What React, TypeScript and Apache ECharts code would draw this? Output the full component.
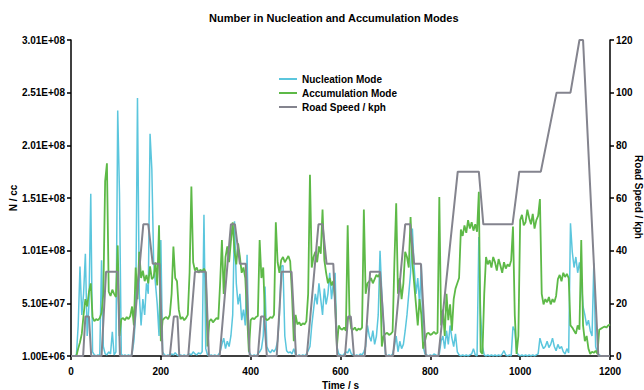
import React, { useEffect, useRef } from "react";
import * as echarts from "echarts";

// Sampling step of the particle-count series (seconds)
const STEP_S = 4;

// Nucleation mode number, in units of 1E+06 per cc, every 4 s from 0 to 1200 s
const nucleationMillions = [
  1, 1, 1, 2, 30, 86, 40, 60, 98, 20, 50, 155, 5, 2, 1, 2, 1, 92, 10, 3, 2, 5, 3, 24, 2,
  5, 234, 154, 3, 1, 2, 1, 2, 1, 3, 15, 40, 246, 60, 30, 55, 40, 70, 60, 212, 178, 90, 70, 50, 20,
  111, 5, 2, 1, 2, 1, 3, 2, 4, 2, 1, 2, 1, 2, 1, 2, 3, 2, 5, 3, 2, 4, 3, 5, 135,
  8, 2, 1, 2, 1, 2, 1, 2, 5, 12, 18, 8, 15, 10, 20, 40, 129, 70, 50, 60, 35, 45, 30, 97, 5,
  2, 1, 2, 1, 3, 5, 8, 20, 67, 10, 6, 4, 7, 5, 8, 15, 40, 86, 87, 20, 6, 4, 5, 3, 8,
  2, 1, 2, 1, 2, 1, 3, 6, 10, 30, 45, 60, 50, 70, 55, 40, 65, 50, 60, 80, 55, 70, 80, 10, 3,
  2, 1, 3, 5, 4, 8, 3, 2, 1, 2, 1, 3, 2, 5, 10, 30, 20, 15, 25, 12, 20, 40, 101, 60, 30,
  3, 1, 2, 1, 3, 10, 20, 5, 15, 8, 12, 25, 40, 60, 80, 122, 85, 60, 75, 50, 88, 10, 3, 2, 1,
  2, 1, 3, 2, 1, 3, 15, 20, 8, 25, 12, 30, 18, 10, 22, 5, 2, 1, 2, 1, 2, 1, 2, 3, 8,
  2, 1, 114, 40, 10, 2, 1, 2, 1, 2, 1, 2, 1, 2, 1, 3, 6, 2, 1, 2, 1, 29, 25, 5, 2,
  1, 2, 1, 2, 1, 2, 1, 2, 1, 2, 3, 18, 12, 8, 10, 15, 9, 12, 18, 10, 6, 12, 8, 10, 5,
  3, 8, 4, 127, 100, 85, 95, 80, 90, 75, 48, 40, 30, 35, 25, 20, 89, 10, 4, 2, 1, 1, 1, 1, 1,
  1,
];

// Accumulation mode number, in units of 1E+06 per cc, every 4 s from 0 to 1200 s
const accumulationMillions = [
  1, 1, 1, 1, 8, 14, 22, 40, 55, 48, 62, 70, 38, 34, 36, 35, 37, 42, 60, 167, 184, 62, 58, 64, 60,
  57, 106, 20, 36, 37, 35, 38, 36, 39, 48, 30, 85, 55, 100, 75, 82, 72, 78, 70, 86, 74, 76, 90, 68, 125,
  15, 35, 37, 38, 36, 40, 60, 105, 75, 72, 45, 36, 38, 35, 37, 40, 80, 162, 90, 82, 85, 80, 83, 81, 84,
  80, 10, 34, 36, 33, 35, 37, 36, 70, 111, 60, 95, 105, 90, 110, 128, 100, 88, 108, 95, 80, 85, 75, 40, 5,
  35, 37, 36, 38, 39, 111, 75, 85, 37, 35, 36, 38, 37, 40, 128, 90, 80, 92, 95, 90, 93, 96, 91, 60, 15,
  40, 31, 33, 30, 32, 31, 34, 60, 173, 85, 95, 100, 90, 105, 98, 140, 92, 80, 70, 75, 68, 72, 55, 10, 30,
  27, 26, 28, 25, 125, 40, 27, 26, 28, 25, 27, 26, 28, 140, 60, 70, 72, 75, 70, 74, 78, 76, 80, 10, 20,
  22, 23, 21, 22, 24, 90, 146, 60, 75, 55, 70, 100, 95, 85, 133, 90, 70, 50, 30, 55, 40, 8, 15, 22, 23,
  21, 22, 24, 22, 23, 152, 30, 45, 20, 60, 35, 50, 25, 55, 65, 70, 75, 121, 115, 125, 118, 130, 122, 128, 120,
  126, 119, 157, 5, 3, 60, 95, 88, 92, 85, 95, 90, 82, 93, 87, 80, 90, 84, 88, 86, 92, 124, 40, 3, 20,
  130, 135, 125, 128, 140, 132, 126, 136, 122, 130, 134, 150, 60, 50, 55, 52, 57, 50, 55, 52, 58, 74, 78, 72, 80,
  76, 79, 75, 30, 28, 25, 22, 30, 26, 111, 30, 15, 20, 8, 3, 5, 4, 6, 3, 26, 27, 28, 29, 28, 30,
  31,
];

// Road speed trace: break points (s) and speeds (kph)
const speedTime = [
  0, 27, 32, 40, 45, 68, 78, 104, 109, 135, 161, 172, 182, 197, 204,
  220, 229, 237, 241, 261, 276, 300, 307, 331, 356, 365, 376, 389, 398,
  416, 423, 430, 436, 458, 469, 491, 501, 525, 551, 560, 569, 584, 593,
  610, 617, 623, 630, 654, 666, 688, 701, 717, 744, 755, 764, 779, 790,
  818, 861, 908, 918, 983, 998, 1046, 1081, 1112, 1132, 1140, 1174, 1200,
];
const speedKph = [
  0, 0, 15, 15, 0, 0, 32, 32, 0, 0, 50, 50, 35, 35, 0,
  0, 15, 15, 0, 0, 32, 32, 0, 0, 50, 50, 35, 35, 0,
  0, 15, 15, 0, 0, 32, 32, 0, 0, 50, 50, 35, 35, 0,
  0, 15, 15, 0, 0, 32, 32, 0, 0, 50, 50, 35, 35, 0,
  0, 70, 70, 50, 50, 70, 70, 100, 100, 120, 120, 0, 0,
];

const FONT = "'Liberation Sans', Arial, sans-serif";

function sci(v: number): string {
  const n = Math.round(v * 1e6);
  const [m, e] = n.toExponential(2).split("e");
  const ex = parseInt(e, 10);
  return m + "E" + (ex < 0 ? "-" : "+") + String(Math.abs(ex)).padStart(2, "0");
}

export default function App() {
  const ref = useRef<HTMLDivElement>(null);

  useEffect(() => {
    if (!ref.current) return;
    const chart = echarts.init(ref.current, null, { renderer: "svg" });

    const axisCommon = {
      axisLine: { show: true, lineStyle: { color: "#000", width: 1.5 } },
      axisTick: { show: true, length: 4, lineStyle: { color: "#000", width: 1.5 } },
      axisLabel: { color: "#000", fontWeight: "bold", fontSize: 10, fontFamily: FONT },
      splitLine: { show: false },
      nameTextStyle: { color: "#000", fontWeight: "bold", fontSize: 10, fontFamily: FONT },
    };

    const nameStyle = {
      fill: "#000",
      fontWeight: "bold",
      fontSize: 10,
      fontFamily: FONT,
      align: "center",
      verticalAlign: "middle",
    };

    chart.setOption({
      animation: false,
      backgroundColor: "#fff",
      title: {
        text: "Number in Nucleation and Accumulation Modes",
        left: 204,
        top: 7,
        textStyle: { color: "#000", fontWeight: "bold", fontSize: 11, fontFamily: FONT },
      },
      legend: {
        orient: "vertical",
        left: 274,
        top: 69,
        itemWidth: 18,
        itemHeight: 2,
        itemGap: 4,
        icon: "rect",
        textStyle: { color: "#000", fontWeight: "bold", fontSize: 10, fontFamily: FONT },
        data: ["Nucleation Mode", "Accumulation Mode", "Road Speed / kph"],
      },
      graphic: [
        {
          type: "text",
          x: 13,
          y: 198,
          rotation: Math.PI / 2,
          style: { ...nameStyle, text: "N / cc" },
        },
        {
          type: "text",
          x: 638,
          y: 197,
          rotation: -Math.PI / 2,
          style: { ...nameStyle, text: "Road Speed / kph" },
        },
      ],
      grid: {
        left: 71,
        right: 34,
        top: 40,
        bottom: 34,
        containLabel: false,
        outerBoundsMode: "none",
      },
      xAxis: {
        type: "value",
        min: 0,
        max: 1200,
        interval: 200,
        name: "Time / s",
        nameLocation: "middle",
        nameGap: 24,
        ...axisCommon,
        axisLabel: { ...axisCommon.axisLabel, margin: 10, formatter: (v: number) => String(v) },
      },
      yAxis: [
        {
          type: "value",
          min: 1,
          max: 301,
          interval: 50,
          ...axisCommon,
          axisLabel: { ...axisCommon.axisLabel, margin: 6, formatter: (v: number) => sci(v) },
        },
        {
          type: "value",
          position: "right",
          min: 0,
          max: 120,
          interval: 20,
          ...axisCommon,
          axisLabel: { ...axisCommon.axisLabel, margin: 6 },
        },
      ],
      series: [
        {
          name: "Nucleation Mode",
          type: "line",
          yAxisIndex: 0,
          symbol: "none",
          lineStyle: { color: "#5BC6DD", width: 1.5 },
          itemStyle: { color: "#5BC6DD" },
          data: nucleationMillions.map((v, i) => [i * STEP_S, v]),
        },
        {
          name: "Accumulation Mode",
          type: "line",
          yAxisIndex: 0,
          symbol: "none",
          lineStyle: { color: "#5DB947", width: 1.8 },
          itemStyle: { color: "#5DB947" },
          data: accumulationMillions.map((v, i) => [i * STEP_S, v]),
        },
        {
          name: "Road Speed / kph",
          type: "line",
          yAxisIndex: 1,
          symbol: "none",
          lineStyle: { color: "#84848E", width: 2 },
          itemStyle: { color: "#84848E" },
          data: speedTime.map((t, i) => [t, speedKph[i]]),
        },
      ],
    });

    return () => chart.dispose();
  }, []);

  return (
    <div
      ref={ref}
      style={{ position: "fixed", left: 0, top: 0, width: 644, height: 390, background: "#fff" }}
    />
  );
}
